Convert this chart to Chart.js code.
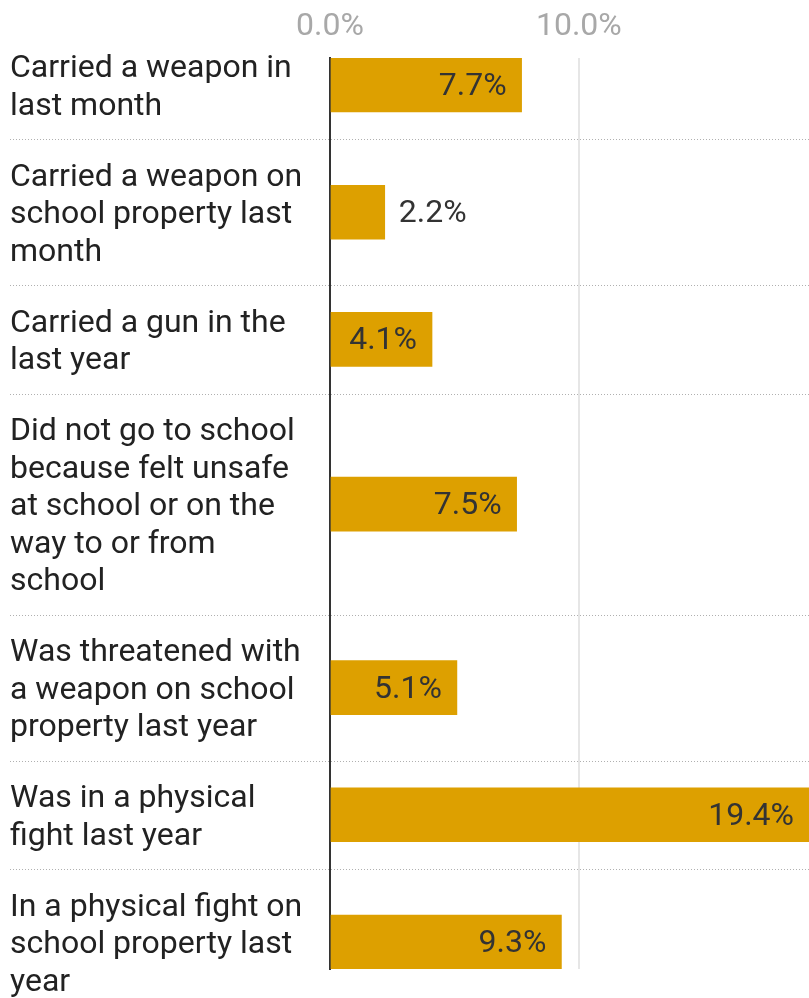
<!DOCTYPE html>
<html lang="en">
<head>
  <meta charset="UTF-8">
  <title>Youth violence indicators</title>
  <style>
    body {
      margin: 0;
      background: #fff;
    }
    #wrap {
      width: 809px;
      height: 998px;
    }
  </style>
</head>
<body>

  <div id="wrap"><canvas id="bar-chart"></canvas></div>

  <script src="https://cdn.jsdelivr.net/npm/chart.js"></script>
  <script>
    // Category labels, already broken into lines
    const categories = [
      ['Carried a weapon in', 'last month'],
      ['Carried a weapon on', 'school property last', 'month'],
      ['Carried a gun in the', 'last year'],
      ['Did not go to school', 'because felt unsafe', 'at school or on the', 'way to or from', 'school'],
      ['Was threatened with', 'a weapon on school', 'property last year'],
      ['Was in a physical', 'fight last year'],
      ['In a physical fight on', 'school property last', 'year']
    ];
    const values = [7.7, 2.2, 4.1, 7.5, 5.1, 19.4, 9.3];
    const xTicks = [0, 10];

    const FONT = 'Roboto';
    const FONT_SIZE = 32;
    const LINE = 37.5;     // label line height
    const ROW_PAD = 33.5;  // space above + below a label block
    const BAR = 54;        // bar thickness
    const LABEL_NUDGE = 3; // labels sit a touch below the bar centre

    // Rows grow with the number of label lines, so the y axis is linear
    const rowCenters = [];
    const rowEdges = [];
    let edge = 0;
    categories.forEach(lines => {
      const h = lines.length * LINE + ROW_PAD;
      rowCenters.push(edge + h / 2);
      edge += h;
      rowEdges.push(edge);
    });

    // Dotted separators between rows
    const separators = {
      id: 'separators',
      beforeDatasetsDraw(chart) {
        const ctx = chart.ctx;
        const y = chart.scales.y;
        ctx.save();
        ctx.strokeStyle = '#b0b0b0';
        ctx.lineWidth = 1;
        ctx.setLineDash([1, 2]);
        rowEdges.slice(0, -1).forEach(v => {
          const py = Math.round(y.getPixelForValue(v)) + 0.5;
          ctx.beginPath();
          ctx.moveTo(10, py);
          ctx.lineTo(chart.width, py);
          ctx.stroke();
        });
        ctx.restore();
      }
    };

    // Value labels: inside the bar when there is room, else just past its end
    const valueLabels = {
      id: 'valueLabels',
      afterDatasetsDraw(chart) {
        const ctx = chart.ctx;
        const meta = chart.getDatasetMeta(0);
        ctx.save();
        ctx.font = FONT_SIZE + 'px ' + FONT;
        ctx.fillStyle = '#333';
        ctx.textBaseline = 'middle';
        meta.data.forEach((bar, i) => {
          const text = values[i].toFixed(1) + '%';
          const w = ctx.measureText(text).width;
          const len = bar.x - bar.base;
          if (w + 30 < len) {
            ctx.textAlign = 'right';
            ctx.fillText(text, Math.min(bar.x, chart.chartArea.right) - 15, bar.y + 2);
          } else {
            ctx.textAlign = 'left';
            ctx.fillText(text, bar.x + 14, bar.y + 2);
          }
        });
        ctx.restore();
      }
    };

    function initChart() {
      const ctx = document.getElementById('bar-chart').getContext('2d');
      new Chart(ctx, {
        type: 'bar',
        data: {
          datasets: [{
            data: values.map((v, i) => ({ x: v, y: rowCenters[i] })),
            backgroundColor: '#dda000',
            barThickness: BAR
          }]
        },
        options: {
          indexAxis: 'y',
          responsive: true,
          maintainAspectRatio: false,
          animation: false,
          layout: {
            padding: { left: 10, right: 0, top: 0, bottom: 29 }
          },
          plugins: {
            legend: { display: false },
            tooltip: { enabled: false }
          },
          scales: {
            x: {
              position: 'top',
              min: 0,
              max: 19.25,
              afterBuildTicks: scale => {
                scale.ticks = xTicks.map(v => ({ value: v }));
              },
              afterFit: scale => { scale.height = 58; },
              ticks: {
                padding: 12,
                color: '#a8a8a8',
                font: { family: FONT, size: FONT_SIZE },
                callback: v => v.toFixed(1) + '%'
              },
              grid: {
                drawTicks: false,
                lineWidth: 2,
                color: c => (c.tick && c.tick.value === 0) ? 'rgba(0,0,0,0)' : '#e6e6e6'
              },
              border: { display: false }
            },
            y: {
              type: 'linear',
              reverse: true,
              offset: false,
              min: rowCenters[0] - BAR / 2,
              max: rowCenters[rowCenters.length - 1] + BAR / 2,
              afterBuildTicks: scale => {
                scale.ticks = rowCenters.map(v => ({ value: v + LABEL_NUDGE }));
              },
              afterFit: scale => {
                scale.width = 320;
                // let the first/last labels run past the plot area
                scale.paddingTop = 0;
                scale.paddingBottom = 0;
              },
              ticks: {
                autoSkip: false,
                crossAlign: 'far',
                color: '#222',
                font: { family: FONT, size: FONT_SIZE, lineHeight: LINE / FONT_SIZE },
                callback: (v, i) => categories[i]
              },
              grid: { display: false },
              border: { display: true, color: '#333', width: 2 }
            }
          }
        },
        plugins: [separators, valueLabels]
      });
    }

    window.onload = initChart;
  </script>
</body>
</html>
